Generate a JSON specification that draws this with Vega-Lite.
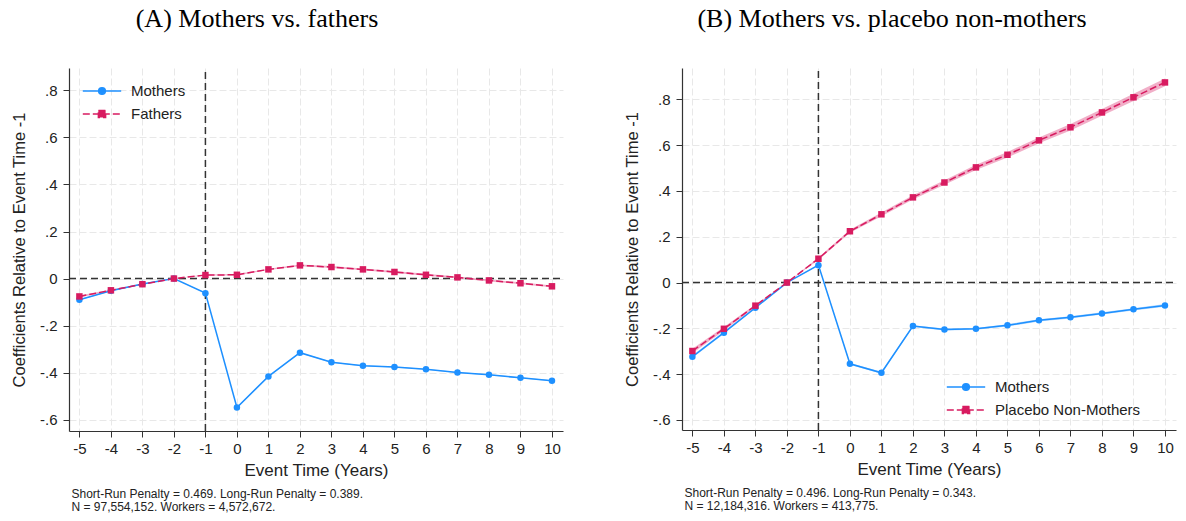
{
  "$schema": "https://vega.github.io/schema/vega-lite/v6.json",
  "background": "white",
  "padding": {"left": 11, "top": 6, "right": 5, "bottom": 5},
  "config": {
    "font": "Liberation Sans",
    "view": {"stroke": null},
    "axis": {
      "labelFontSize": 15, "titleFontSize": 17, "titleFontWeight": "normal",
      "labelColor": "#222", "titleColor": "#222", "domainColor": "#333", "tickColor": "#333",
      "gridColor": "#e8e8e8", "gridDash": [7, 3], "tickSize": 6, "domainWidth": 1.2, "labelOverlap": false, "labelSeparation": 0
    },
    "legend": {
      "title": null, "direction": "vertical", "labelFontSize": 15, "labelColor": "#222", "symbolSize": 256, "symbolStrokeWidth": 1.5, "labelOffset": 20, "padding": 0
    }
  },
  "datasets": {
    "a": [
      {"t": -5, "series": "Mothers", "coef": -0.090, "lo": -0.092, "hi": -0.088},
      {"t": -4, "series": "Mothers", "coef": -0.052, "lo": -0.054, "hi": -0.050},
      {"t": -3, "series": "Mothers", "coef": -0.023, "lo": -0.025, "hi": -0.021},
      {"t": -2, "series": "Mothers", "coef": 0.0, "lo": 0.0, "hi": 0.0},
      {"t": -1, "series": "Mothers", "coef": -0.062, "lo": -0.064, "hi": -0.060},
      {"t": 0, "series": "Mothers", "coef": -0.548, "lo": -0.550, "hi": -0.546},
      {"t": 1, "series": "Mothers", "coef": -0.416, "lo": -0.418, "hi": -0.414},
      {"t": 2, "series": "Mothers", "coef": -0.315, "lo": -0.317, "hi": -0.313},
      {"t": 3, "series": "Mothers", "coef": -0.356, "lo": -0.358, "hi": -0.354},
      {"t": 4, "series": "Mothers", "coef": -0.371, "lo": -0.373, "hi": -0.369},
      {"t": 5, "series": "Mothers", "coef": -0.376, "lo": -0.378, "hi": -0.374},
      {"t": 6, "series": "Mothers", "coef": -0.386, "lo": -0.388, "hi": -0.384},
      {"t": 7, "series": "Mothers", "coef": -0.399, "lo": -0.401, "hi": -0.397},
      {"t": 8, "series": "Mothers", "coef": -0.409, "lo": -0.411, "hi": -0.407},
      {"t": 9, "series": "Mothers", "coef": -0.422, "lo": -0.424, "hi": -0.420},
      {"t": 10, "series": "Mothers", "coef": -0.434, "lo": -0.436, "hi": -0.432},
      {"t": -5, "series": "Fathers", "coef": -0.076, "lo": -0.080, "hi": -0.072},
      {"t": -4, "series": "Fathers", "coef": -0.050, "lo": -0.053, "hi": -0.047},
      {"t": -3, "series": "Fathers", "coef": -0.024, "lo": -0.026, "hi": -0.022},
      {"t": -2, "series": "Fathers", "coef": 0.0, "lo": 0.0, "hi": 0.0},
      {"t": -1, "series": "Fathers", "coef": 0.015, "lo": 0.013, "hi": 0.017},
      {"t": 0, "series": "Fathers", "coef": 0.016, "lo": 0.013, "hi": 0.019},
      {"t": 1, "series": "Fathers", "coef": 0.039, "lo": 0.036, "hi": 0.042},
      {"t": 2, "series": "Fathers", "coef": 0.056, "lo": 0.052, "hi": 0.060},
      {"t": 3, "series": "Fathers", "coef": 0.049, "lo": 0.045, "hi": 0.053},
      {"t": 4, "series": "Fathers", "coef": 0.039, "lo": 0.035, "hi": 0.043},
      {"t": 5, "series": "Fathers", "coef": 0.028, "lo": 0.024, "hi": 0.032},
      {"t": 6, "series": "Fathers", "coef": 0.016, "lo": 0.012, "hi": 0.020},
      {"t": 7, "series": "Fathers", "coef": 0.005, "lo": 0.001, "hi": 0.009},
      {"t": 8, "series": "Fathers", "coef": -0.008, "lo": -0.012, "hi": -0.004},
      {"t": 9, "series": "Fathers", "coef": -0.020, "lo": -0.024, "hi": -0.016},
      {"t": 10, "series": "Fathers", "coef": -0.033, "lo": -0.037, "hi": -0.029}
    ],
    "b": [
      {"t": -5, "series": "Mothers", "coef": -0.324, "lo": -0.330, "hi": -0.318},
      {"t": -4, "series": "Mothers", "coef": -0.219, "lo": -0.224, "hi": -0.214},
      {"t": -3, "series": "Mothers", "coef": -0.110, "lo": -0.114, "hi": -0.106},
      {"t": -2, "series": "Mothers", "coef": 0.0, "lo": 0.0, "hi": 0.0},
      {"t": -1, "series": "Mothers", "coef": 0.076, "lo": 0.073, "hi": 0.079},
      {"t": 0, "series": "Mothers", "coef": -0.355, "lo": -0.359, "hi": -0.351},
      {"t": 1, "series": "Mothers", "coef": -0.394, "lo": -0.398, "hi": -0.390},
      {"t": 2, "series": "Mothers", "coef": -0.190, "lo": -0.194, "hi": -0.186},
      {"t": 3, "series": "Mothers", "coef": -0.205, "lo": -0.209, "hi": -0.201},
      {"t": 4, "series": "Mothers", "coef": -0.202, "lo": -0.206, "hi": -0.198},
      {"t": 5, "series": "Mothers", "coef": -0.187, "lo": -0.192, "hi": -0.182},
      {"t": 6, "series": "Mothers", "coef": -0.165, "lo": -0.170, "hi": -0.160},
      {"t": 7, "series": "Mothers", "coef": -0.152, "lo": -0.157, "hi": -0.147},
      {"t": 8, "series": "Mothers", "coef": -0.135, "lo": -0.140, "hi": -0.130},
      {"t": 9, "series": "Mothers", "coef": -0.117, "lo": -0.122, "hi": -0.112},
      {"t": 10, "series": "Mothers", "coef": -0.100, "lo": -0.106, "hi": -0.094},
      {"t": -5, "series": "Placebo Non-Mothers", "coef": -0.299, "lo": -0.309, "hi": -0.289},
      {"t": -4, "series": "Placebo Non-Mothers", "coef": -0.202, "lo": -0.210, "hi": -0.194},
      {"t": -3, "series": "Placebo Non-Mothers", "coef": -0.101, "lo": -0.106, "hi": -0.096},
      {"t": -2, "series": "Placebo Non-Mothers", "coef": 0.0, "lo": 0.0, "hi": 0.0},
      {"t": -1, "series": "Placebo Non-Mothers", "coef": 0.104, "lo": 0.099, "hi": 0.109},
      {"t": 0, "series": "Placebo Non-Mothers", "coef": 0.224, "lo": 0.217, "hi": 0.231},
      {"t": 1, "series": "Placebo Non-Mothers", "coef": 0.298, "lo": 0.290, "hi": 0.306},
      {"t": 2, "series": "Placebo Non-Mothers", "coef": 0.372, "lo": 0.363, "hi": 0.381},
      {"t": 3, "series": "Placebo Non-Mothers", "coef": 0.437, "lo": 0.427, "hi": 0.447},
      {"t": 4, "series": "Placebo Non-Mothers", "coef": 0.503, "lo": 0.492, "hi": 0.514},
      {"t": 5, "series": "Placebo Non-Mothers", "coef": 0.558, "lo": 0.546, "hi": 0.570},
      {"t": 6, "series": "Placebo Non-Mothers", "coef": 0.621, "lo": 0.608, "hi": 0.634},
      {"t": 7, "series": "Placebo Non-Mothers", "coef": 0.678, "lo": 0.664, "hi": 0.692},
      {"t": 8, "series": "Placebo Non-Mothers", "coef": 0.743, "lo": 0.728, "hi": 0.758},
      {"t": 9, "series": "Placebo Non-Mothers", "coef": 0.809, "lo": 0.793, "hi": 0.825},
      {"t": 10, "series": "Placebo Non-Mothers", "coef": 0.874, "lo": 0.857, "hi": 0.891}
    ]
  },
  "hconcat": [
    {
      "vconcat": [
        {
          "title": {"text": "(A) Mothers vs. fathers", "font": "Liberation Serif", "fontSize": 26, "fontWeight": "normal", "color": "#000", "anchor": "middle", "dx": -59, "offset": 35},
          "width": 494,
          "height": 363,
          "encoding": {
            "x": {"field": "t", "type": "quantitative", "scale": {"domain": [-5.33, 10.35], "nice": false, "zero": false},
                  "axis": {"values": [-5, -4, -3, -2, -1, 0, 1, 2, 3, 4, 5, 6, 7, 8, 9, 10], "labelExpr": "'' + datum.value", "labelOverlap": false, "title": "Event Time (Years)", "labelPadding": 4, "titlePadding": 6}},
            "y": {"field": "coef", "type": "quantitative", "scale": {"domain": [-0.648, 0.895], "nice": false, "zero": false},
                  "axis": {"values": [-0.6, -0.4, -0.2, 0, 0.2, 0.4, 0.6, 0.8], "labelExpr": "datum.value == 0 ? '0' : replace('' + datum.value, '0.', '.')", "labelOverlap": false, "title": "Coefficients Relative to Event Time -1", "titleFontSize": 16.5, "labelPadding": 6, "titlePadding": 12}}
          },
          "layer": [
            {
              "data": {"name": "a"},
              "mark": {"type": "area", "opacity": 0.35},
              "encoding": {
                "y": {"field": "lo", "type": "quantitative"},
                "y2": {"field": "hi"},
                "color": {"field": "series", "type": "nominal", "scale": {"domain": ["Mothers", "Fathers"], "range": ["#1E90FF", "#D81B60"]}, "legend": null}
              }
            },
            {
              "data": {"values": [{"t": -5.33, "t2": 10.35, "y0": 0}]},
              "mark": {"type": "rule", "strokeDash": [7, 4], "color": "#333", "strokeWidth": 1.5},
              "encoding": {"x2": {"field": "t2"}, "y": {"field": "y0", "type": "quantitative"}}
            },
            {
              "data": {"values": [{"t": -1, "ylo": -0.648, "yhi": 0.895}]},
              "mark": {"type": "rule", "strokeDash": [7, 4], "color": "#333", "strokeWidth": 1.5},
              "encoding": {"y": {"field": "ylo", "type": "quantitative"}, "y2": {"field": "yhi"}}
            },
            {
              "data": {"name": "a"},
              "transform": [{"filter": "datum.series === 'Mothers'"}],
              "mark": {"type": "line", "strokeWidth": 1.5},
              "encoding": {
                "stroke": {"datum": "Mothers", "type": "nominal", "scale": {"domain": ["Mothers"], "range": ["#1E90FF"]},
                  "legend": {"orient": "none", "legendX": 24, "legendY": 14, "symbolType": "M-2.4,0H2.4M-0.42,0A0.42,0.42,0,1,0,0.42,0A0.42,0.42,0,1,0,-0.42,0Z", "symbolFillColor": "#1E90FF", "symbolStrokeColor": "#1E90FF"}}
              }
            },
            {
              "data": {"name": "a"},
              "transform": [{"filter": "datum.series === 'Fathers'"}],
              "mark": {"type": "line", "strokeWidth": 1.5, "color": "#D81B60"},
              "encoding": {
                "strokeDash": {"datum": "Fathers", "type": "nominal", "scale": {"domain": ["Fathers"], "range": [[7, 3]]},
                  "legend": {"orient": "none", "legendX": 24, "legendY": 37, "symbolType": "M-2.4,0H2.4M-0.45,-0.45H0.45V0.45H-0.45Z", "symbolFillColor": "#D81B60", "symbolStrokeColor": "#D81B60"}}
              }
            },
            {
              "data": {"name": "a"},
              "transform": [{"filter": "datum.series === 'Mothers'"}],
              "mark": {"type": "point", "filled": true, "size": 42, "opacity": 1, "shape": "circle", "color": "#1E90FF"}
            },
            {
              "data": {"name": "a"},
              "transform": [{"filter": "datum.series === 'Fathers'"}],
              "mark": {"type": "point", "filled": true, "size": 42, "opacity": 1, "shape": "square", "color": "#D81B60"}
            }
          ]
        }
      ],
      "title": {"text": ["Short-Run Penalty = 0.469. Long-Run Penalty = 0.389.", "N = 97,554,152. Workers = 4,572,672."], "orient": "bottom", "anchor": "start", "fontSize": 12, "fontWeight": "normal", "color": "#222", "lineHeight": 13, "offset": 11, "dx": 60}
    },
    {
      "vconcat": [
        {
          "title": {"text": "(B) Mothers vs. placebo non-mothers", "font": "Liberation Serif", "fontSize": 26, "fontWeight": "normal", "color": "#000", "anchor": "middle", "dx": -37, "offset": 35},
          "width": 494,
          "height": 362,
          "encoding": {
            "x": {"field": "t", "type": "quantitative", "scale": {"domain": [-5.33, 10.35], "nice": false, "zero": false},
                  "axis": {"values": [-5, -4, -3, -2, -1, 0, 1, 2, 3, 4, 5, 6, 7, 8, 9, 10], "labelExpr": "'' + datum.value", "labelOverlap": false, "title": "Event Time (Years)", "labelPadding": 4, "titlePadding": 6}},
            "y": {"field": "coef", "type": "quantitative", "scale": {"domain": [-0.644, 0.937], "nice": false, "zero": false},
                  "axis": {"values": [-0.6, -0.4, -0.2, 0, 0.2, 0.4, 0.6, 0.8], "labelExpr": "datum.value == 0 ? '0' : replace('' + datum.value, '0.', '.')", "labelOverlap": false, "title": "Coefficients Relative to Event Time -1", "titleFontSize": 16.5, "labelPadding": 6, "titlePadding": 12}}
          },
          "layer": [
            {
              "data": {"name": "b"},
              "mark": {"type": "area", "opacity": 0.35},
              "encoding": {
                "y": {"field": "lo", "type": "quantitative"},
                "y2": {"field": "hi"},
                "color": {"field": "series", "type": "nominal", "scale": {"domain": ["Mothers", "Placebo Non-Mothers"], "range": ["#1E90FF", "#D81B60"]}, "legend": null}
              }
            },
            {
              "data": {"values": [{"t": -5.33, "t2": 10.35, "y0": 0}]},
              "mark": {"type": "rule", "strokeDash": [7, 4], "color": "#333", "strokeWidth": 1.5},
              "encoding": {"x2": {"field": "t2"}, "y": {"field": "y0", "type": "quantitative"}}
            },
            {
              "data": {"values": [{"t": -1, "ylo": -0.644, "yhi": 0.937}]},
              "mark": {"type": "rule", "strokeDash": [7, 4], "color": "#333", "strokeWidth": 1.5},
              "encoding": {"y": {"field": "ylo", "type": "quantitative"}, "y2": {"field": "yhi"}}
            },
            {
              "data": {"name": "b"},
              "transform": [{"filter": "datum.series === 'Mothers'"}],
              "mark": {"type": "line", "strokeWidth": 1.5},
              "encoding": {
                "stroke": {"datum": "Mothers", "type": "nominal", "scale": {"domain": ["Mothers"], "range": ["#1E90FF"]},
                  "legend": {"orient": "none", "legendX": 275, "legendY": 310, "symbolType": "M-2.4,0H2.4M-0.42,0A0.42,0.42,0,1,0,0.42,0A0.42,0.42,0,1,0,-0.42,0Z", "symbolFillColor": "#1E90FF", "symbolStrokeColor": "#1E90FF"}}
              }
            },
            {
              "data": {"name": "b"},
              "transform": [{"filter": "datum.series === 'Placebo Non-Mothers'"}],
              "mark": {"type": "line", "strokeWidth": 1.5, "color": "#D81B60"},
              "encoding": {
                "strokeDash": {"datum": "Placebo Non-Mothers", "type": "nominal", "scale": {"domain": ["Placebo Non-Mothers"], "range": [[7, 3]]},
                  "legend": {"orient": "none", "legendX": 275, "legendY": 333, "symbolType": "M-2.4,0H2.4M-0.45,-0.45H0.45V0.45H-0.45Z", "symbolFillColor": "#D81B60", "symbolStrokeColor": "#D81B60"}}
              }
            },
            {
              "data": {"name": "b"},
              "transform": [{"filter": "datum.series === 'Mothers'"}],
              "mark": {"type": "point", "filled": true, "size": 42, "opacity": 1, "shape": "circle", "color": "#1E90FF"}
            },
            {
              "data": {"name": "b"},
              "transform": [{"filter": "datum.series === 'Placebo Non-Mothers'"}],
              "mark": {"type": "point", "filled": true, "size": 42, "opacity": 1, "shape": "square", "color": "#D81B60"}
            }
          ]
        }
      ],
      "title": {"text": ["Short-Run Penalty = 0.496. Long-Run Penalty = 0.343.", "N = 12,184,316. Workers = 413,775."], "orient": "bottom", "anchor": "start", "fontSize": 12, "fontWeight": "normal", "color": "#222", "lineHeight": 13, "offset": 11, "dx": 60}
    }
  ],
  "spacing": 60,
  "resolve": {"scale": {"color": "independent", "stroke": "independent", "strokeDash": "independent"}, "legend": {"color": "independent", "stroke": "independent", "strokeDash": "independent"}}
}
